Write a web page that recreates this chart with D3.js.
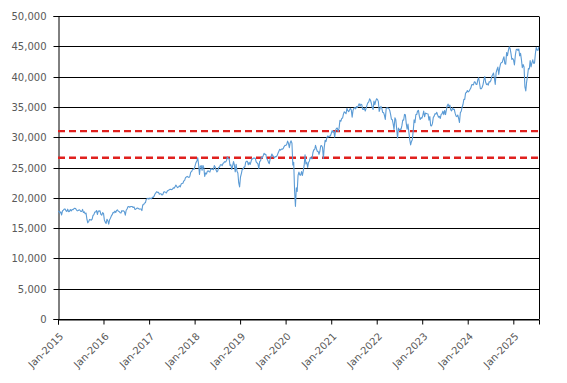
<!DOCTYPE html>
<html><head><meta charset="utf-8">
<script src="https://cdn.jsdelivr.net/npm/d3@7"></script>
<style>body{margin:0;background:#fff}svg{display:block}</style>
</head><body><svg id="c" width="567" height="383"></svg>
<script>
// Weekly closes (Fridays), one array per year
const v2015=[17833,17737,17512,17673,17165,17825,17973,18140,18133,17856,17749,18128,17713,17763,18058,17826,18080,18025,18191,18273,18232,18011,17849,17899,18016,17947,17730,17760,18086,17569,17690,17373,17477,16460,15871,16102,16433,16385,16315,16472,17084,17216,17647,17664,17910,17245,17824,17798,17848,17265,17128,17553];
const v2016=[17425,16346,15988,15766,16466,16205,15660,16392,16640,17007,17213,17602,17516,17793,17577,17898,18004,17774,17740,17535,17501,17873,17807,17865,17675,17140,17949,18147,18517,18571,18432,18543,18576,18553,18395,18492,18085,18124,18261,18308,18240,18138,18145,18161,17888,18848,18868,19152,19171,19757,19843,19934,19763];
const v2017=[19964,19886,19827,20094,20071,20269,20624,20822,21005,20903,20915,20597,20663,20656,20453,20548,20941,21007,20897,20805,21080,21206,21272,21384,21395,21350,21414,21638,21580,21830,22093,21858,21675,21814,21988,21798,22268,22350,22405,22774,22871,23329,23434,23539,23422,23358,23558,24232,24329,24652,24754,24719];
const v2018=[25296,25803,26072,26617,25521,23860,25219,25310,24538,25336,24947,23533,24103,23933,24360,24463,24311,24263,24831,24715,24753,24635,25317,25090,24580,24271,24456,25019,25058,25451,25463,25313,25669,25790,25965,25917,26155,26744,26458,26447,25340,25444,24689,25271,25989,25413,24286,25538,24389,24101,22445,21792];
const v2019=[23433,23996,24706,24737,25064,25106,25883,26031,26026,25450,25849,25502,25929,26425,26412,26559,26543,26505,25942,25764,25586,24815,25984,26090,26719,26600,26922,27332,27154,27192,26485,26287,25886,25629,26403,26797,27220,26935,26820,26573,26817,26770,26958,27347,27681,28005,27876,28051,28015,28135,28455,28645];
const v2020=[28635,28824,29348,28990,28256,29103,29398,28992,25409,25865,21200,18592,21637,21053,23719,24242,23775,23724,24331,23685,24465,25383,27111,25606,25871,25016,25827,26075,26672,26470,26428,27433,27931,27930,28654,28133,27666,27657,27174,27683,28587,28606,28336,26502,28323,29480,29263,29910,30218,30046,30179,30200];
const v2021=[30606,31098,30814,30997,29983,31148,31458,31494,30932,31496,32779,32628,33072,33153,33801,34200,34043,33875,34778,34382,34208,34529,34756,34480,33290,34433,34786,34870,34687,35062,34935,35209,35515,35120,35455,35369,34608,34584,34798,34326,34746,35295,35677,35820,36328,36100,35602,34899,34580,35971,35365,35951,36338];
const v2022=[36232,35912,34265,34725,35090,34738,34079,34059,33615,32945,34755,34862,34818,34721,34451,33811,32977,32899,32197,31262,33213,32900,31393,29889,31501,31097,31338,31288,31899,32845,32803,33761,33706,32283,31318,32151,30822,29590,28726,29297,29634,31083,32861,32403,33748,33746,34347,34430,33477,32920,33204,33147];
const v2023=[33631,34303,33375,33978,33926,33869,33827,32817,33391,31910,31862,32238,33274,33485,33886,33809,34098,33674,33300,33427,33093,33762,33877,34299,33727,34408,33734,34509,35228,35459,35066,35281,34500,34346,34838,34577,34618,33964,33508,33407,33670,33127,32418,34061,34283,34947,35390,36246,36247,37306,37385,37690];
const v2024=[37466,37593,37863,38109,38654,38672,38628,39131,39087,38723,38715,39475,39807,38904,37983,37986,38240,38676,39513,40004,39070,38686,38799,38589,39150,39119,39376,40001,40288,40590,39737,38703,40660,41175,41563,40345,41394,42063,42313,42353,42864,43276,42114,42052,43989,43445,44297,44911,44643,43828,42840,42992];
const v2025=[42732,41938,43488,44424,44545,44303,44546,43428,43841,42802,41488,41985,41583,38315,37645,39142,40114,41317,41249,42655,41603,42270,42763,42198,42207,43819,44829,44372,44342,44902];

const years=[2015,2016,2017,2018,2019,2020,2021,2022,2023,2024,2025];
const yearSeries=[v2015,v2016,v2017,v2018,v2019,v2020,v2021,v2022,v2023,v2024,v2025];
const yTicks=[0,5000,10000,15000,20000,25000,30000,35000,40000,45000,50000];
const xTickYears=[2015,2016,2017,2018,2019,2020,2021,2022,2023,2024,2025];
const refLevels=[31000,26600];
const xDomain=[new Date(2015,0,1), new Date(2025,6,26)];

// Build dated points
const data=[];
years.forEach((yr,k)=>{
  const start=d3.timeFriday.ceil(new Date(yr,0,1));
  yearSeries[k].forEach((v,i)=>data.push({date:d3.timeDay.offset(start,7*i),value:v}));
});

const svg=d3.select("#c");
const L=58,R=539,T=16,B=319;
const x=d3.scaleTime().domain(xDomain).range([L,R]);
const y=d3.scaleLinear().domain([0,50000]).range([B,T]);
const font="DejaVu Sans";
const txt="#595959";

// gridlines
svg.append("g").selectAll("line").data(yTicks).join("line")
  .attr("x1",L).attr("x2",R).attr("y1",d=>Math.round(y(d))+0.5).attr("y2",d=>Math.round(y(d))+0.5)
  .attr("stroke","#000").attr("stroke-width",1);
// right border
svg.append("line").attr("x1",R+0.5).attr("x2",R+0.5).attr("y1",Math.round(y(50000))+0.5).attr("y2",Math.round(y(0))+0.5)
  .attr("stroke","#000");

// y axis
const ya=svg.append("g").attr("transform",`translate(${L+0.5},0)`)
  .call(d3.axisLeft(y).tickValues(yTicks).tickSize(5).tickFormat(d3.format(",")));
ya.selectAll("path,line").attr("stroke","#000");
ya.selectAll(".tick").attr("transform",d=>`translate(0,${Math.round(y(d))+0.5})`);
ya.selectAll("text").attr("font-family",font).attr("font-size",10).attr("fill",txt).attr("x",-12);

// x axis
const xa=svg.append("g").attr("transform",`translate(0,${Math.round(y(0))+0.5})`)
  .call(d3.axisBottom(x).tickValues(xTickYears.map(t=>new Date(t,0,1))).tickSize(5).tickFormat(d3.timeFormat("%b-%Y")));
xa.selectAll("path,line").attr("stroke","#000");
xa.selectAll("text").attr("font-family",font).attr("font-size",10).attr("fill",txt)
  .attr("text-anchor","end").attr("x",0).attr("y",0).attr("dy","0.35em")
  .attr("transform","translate(3,15) rotate(-45)");

// reference lines
svg.append("g").selectAll("line").data(refLevels).join("line")
  .attr("x1",L).attr("x2",R).attr("y1",d=>y(d)).attr("y2",d=>y(d))
  .attr("stroke","#e0201e").attr("stroke-width",2.4).attr("stroke-dasharray","7,4");

// series line
svg.append("path").datum(data)
  .attr("d",d3.line().x(d=>x(d.date)).y(d=>y(d.value)))
  .attr("fill","none").attr("stroke","#5b9bd5").attr("stroke-width",1.1).attr("stroke-linejoin","round");
</script></body></html>
